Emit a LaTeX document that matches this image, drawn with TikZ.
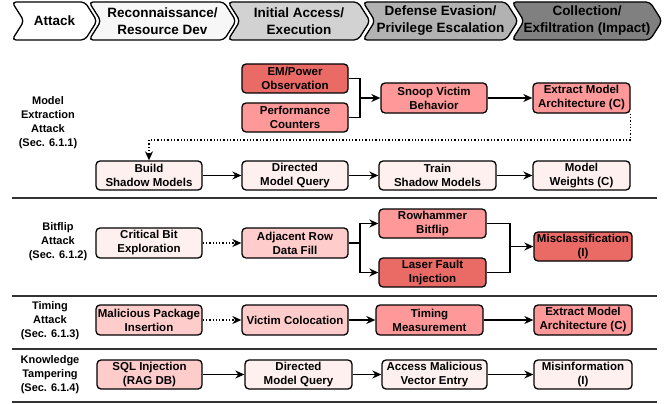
\documentclass[tikz,border=0pt]{standalone}
\usepackage{fontspec}
\setmainfont{Liberation Sans}
\usetikzlibrary{arrows.meta,positioning,calc}

\definecolor{redA}{HTML}{EA6B66}
\definecolor{redB}{HTML}{FF9999}
\definecolor{redC}{HTML}{FFCCCC}
\definecolor{redD}{HTML}{FFF0F0}
\definecolor{sepgray}{HTML}{333333}

\begin{document}
\begin{tikzpicture}[x=1pt,y=-1pt,
    box/.style={draw, rounded corners=4pt, line width=1.3pt, align=center, inner sep=1pt,
      minimum width=106pt, minimum height=29pt, font=\fontsize{11.5}{14}\selectfont\bfseries},
    narrow/.style={minimum width=97pt},
    flow/.style={line width=1.3pt, -{Stealth[length=9pt,width=8pt]}},
    dotflow/.style={line width=1.3pt, dotted, -{Stealth[length=9pt,width=8pt]}},
    joinline/.style={line width=1.3pt},
    rowlabel/.style={align=center, font=\fontsize{11}{14}\selectfont\bfseries},
    phase/.style={align=center, font=\fontsize{13.5}{17}\selectfont\bfseries}]
  \useasboundingbox (0,0) rectangle (667,404);

  % Kill chain header
  \foreach \n/\xl/\xr/\col/\txt in {1/12/85/white/Attack,
      2/89/224/gray!6/{Reconnaissance/\\Resource Dev},
      3/228/358/gray!35/{Initial Access/\\Execution},
      4/363/506/gray!60/{Defense Evasion/\\Privilege Escalation},
      5/512/650/gray/{Collection/\\Exfiltration (Impact)}} {
    \filldraw[fill=\col, line width=1.3pt, rounded corners=4pt]
      (\xl,2) -- (\xr,2) -- ({\xr+12},21) -- (\xr,40) -- (\xl,40) -- ({\xl+12},21) -- cycle;
    \node[phase] (h\n) at ({(\xl+\xr)/2+6},21) {\txt};
  }

  % Separators
  \foreach \y in {198,296,349,402}
    \draw[sepgray, line width=1.5pt] (12,\y) -- (657,\y);

  % Row labels
  \node[rowlabel] (lab1) at (48,123) {Model\\Extraction\\Attack\\(Sec. 6.1.1)};
  \node[rowlabel] (lab2) at (58,242) {Bitflip\\Attack\\(Sec. 6.1.2)};
  \node[rowlabel] (lab3) at (50,321) {Timing\\Attack\\(Sec. 6.1.3)};
  \node[rowlabel] (lab4) at (50,375) {Knowledge\\Tampering\\(Sec. 6.1.4)};

  % Model extraction
  \node[box, fill=redA] (em) at (295,78.5) {EM/Power\\Observation};
  \node[box, fill=redB] (perf) at (295,117.5) {Performance\\Counters};
  \node[box, fill=redB, minimum height=30pt] (snoop) at (434,98) {Snoop Victim\\Behavior};
  \node[box, narrow, fill=redB, minimum height=30pt] (extA) at (581.5,98) {Extract Model\\Architecture (C)};
  \node[box, fill=redD] (build) at (149,175.5) {Build\\Shadow Models};
  \node[box, fill=redD] (dmqA) at (295,175.5) {Directed\\Model Query};
  \node[box, fill=redD, minimum width=117pt] (train) at (437.5,175.5) {Train\\Shadow Models};
  \node[box, narrow, fill=redD] (weights) at (581.5,175.5) {Model\\Weights (C)};

  \coordinate (j1) at (360,98);
  \coordinate (d1) at (149,140);
  \draw[joinline] (em.east) -| (j1);
  \draw[joinline] (perf.east) -| (j1);
  \draw[flow] (j1) -- (snoop.west);
  \draw[flow] (snoop) -- (extA);
  \draw[dotflow] (extA.south east) |- (d1) -- (build.north);
  \draw[flow] (build) -- (dmqA);
  \draw[flow] (dmqA) -- (train);
  \draw[flow] (train) -- (weights);

  % Bitflip
  \node[box, fill=redD, minimum height=30pt] (crit) at (149,243) {Critical Bit\\Exploration};
  \node[box, fill=redC, minimum height=30pt] (adj) at (295,243) {Adjacent Row\\Data Fill};
  \node[box, fill=redB, minimum width=107pt] (rowh) at (432.5,223.5) {Rowhammer\\Bitflip};
  \node[box, fill=redA, minimum width=107pt] (laser) at (432.5,272.5) {Laser Fault\\Injection};
  \node[box, narrow, fill=redA, minimum width=98pt] (miscl) at (583,246.5) {Misclassification\\(I)};

  \coordinate (j2) at (360,243);
  \coordinate (j3) at (510,246.5);
  \draw[dotflow] (crit) -- (adj);
  \draw[joinline] (adj.east) -- (j2);
  \draw[flow] (j2) |- (rowh.west);
  \draw[flow] (j2) |- (laser.west);
  \draw[joinline] (rowh.east) -| (j3);
  \draw[joinline] (laser.east) -| (j3);
  \draw[flow] (j3) -- (miscl.west);

  % Timing
  \node[box, fill=redC, minimum height=30pt] (mal) at (149,320) {Malicious Package\\Insertion};
  \node[box, fill=redC, minimum height=30pt] (coloc) at (295,320) {Victim Colocation};
  \node[box, fill=redB, minimum height=30pt, minimum width=107pt] (timing) at (429.5,320) {Timing\\Measurement};
  \node[box, fill=redB, minimum height=30pt, minimum width=98pt] (extB) at (583,320) {Extract Model\\Architecture (C)};

  \draw[dotflow] (mal) -- (coloc);
  \draw[flow] (coloc) -- (timing);
  \draw[flow] (timing) -- (extB);

  % Knowledge tampering
  \node[box, fill=redC, minimum width=105pt] (sql) at (149.5,374.5) {SQL Injection\\(RAG DB)};
  \node[box, fill=redD, minimum width=107pt] (dmqB) at (298.5,374.5) {Directed\\Model Query};
  \node[box, fill=redD, minimum width=105pt] (access) at (434.5,374.5) {Access Malicious\\Vector Entry};
  \node[box, fill=redD, minimum width=98pt] (misinfo) at (583,374.5) {Misinformation\\(I)};

  \draw[flow] (sql) -- (dmqB);
  \draw[flow] (dmqB) -- (access);
  \draw[flow] (access) -- (misinfo);
\end{tikzpicture}
\end{document}
